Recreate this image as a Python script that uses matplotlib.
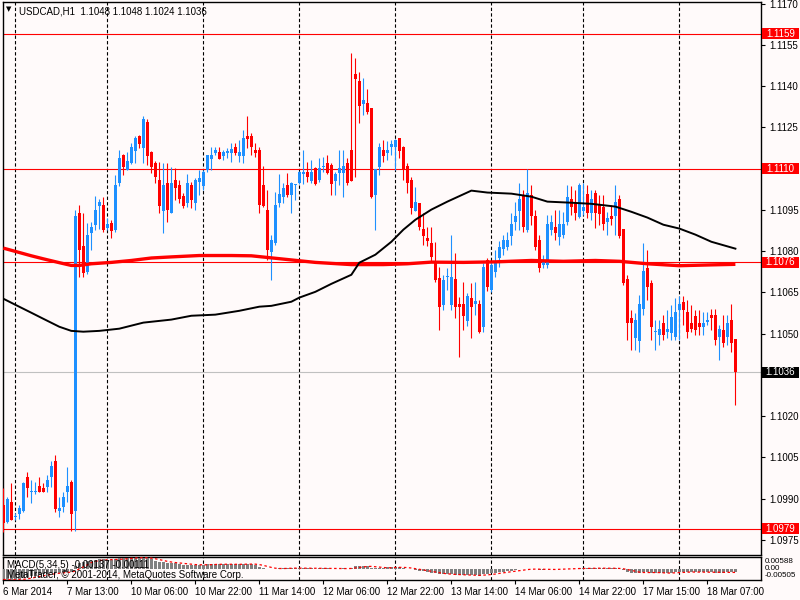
import matplotlib
matplotlib.use('Agg')
import matplotlib.pyplot as plt
import numpy as np
import pandas as pd
from matplotlib.transforms import blended_transform_factory
from matplotlib.patches import Rectangle

plt.rcParams['font.family'] = ['Liberation Sans', 'DejaVu Sans']

symbol_title = "USDCAD,H1  1.1048 1.1048 1.1024 1.1036"

opens = [
    1.09877, 1.09816, 1.09888, 1.09834, 1.09845, 1.09856, 1.09979, 1.09925, 1.09925, 1.09946,
    1.09939, 1.09943, 1.09979, 1.10037, 1.09856, 1.09870, 1.09925, 1.09961, 1.09856, 1.10940,
    1.10820, 1.10725, 1.10867, 1.10896, 1.10965, 1.10969, 1.10885, 1.10903, 1.10878, 1.11049,
    1.11151, 1.11096, 1.11122, 1.11165, 1.11220, 1.11176, 1.11271, 1.11162, 1.11122, 1.11060,
    1.10947, 1.11049, 1.10940, 1.11060, 1.11042, 1.11002, 1.10976, 1.11042, 1.10976, 1.11053,
    1.11038, 1.11096, 1.11136, 1.11158, 1.11162, 1.11147, 1.11158, 1.11158, 1.11180, 1.11147,
    1.11147, 1.11220, 1.11220, 1.11169, 1.11169, 1.11042, 1.10951, 1.10798, 1.10831, 1.10976,
    1.10998, 1.11042, 1.11005, 1.11040, 1.11049, 1.11082, 1.11089, 1.11056, 1.11103, 1.11060,
    1.11107, 1.11122, 1.11114, 1.11056, 1.11085, 1.11085, 1.11122, 1.11169, 1.11445, 1.11420,
    1.11336, 1.11340, 1.11322, 1.11005, 1.11107, 1.11169, 1.11158, 1.11180, 1.11180, 1.11213,
    1.11180, 1.11111, 1.11060, 1.10947, 1.10976, 1.10882, 1.10849, 1.10831, 1.10765, 1.10703,
    1.10605, 1.10707, 1.10605, 1.10700, 1.10609, 1.10609, 1.10547, 1.10631, 1.10609, 1.10609,
    1.10525, 1.10769, 1.10660, 1.10725, 1.10776, 1.10809, 1.10816, 1.10856, 1.10907, 1.10947,
    1.11005, 1.10878, 1.11005, 1.10929, 1.10842, 1.10751, 1.10751, 1.10878, 1.10889, 1.10852,
    1.10860, 1.10907, 1.10991, 1.10976, 1.10925, 1.10947, 1.11009, 1.10940, 1.11013, 1.10969,
    1.10962, 1.10907, 1.10929, 1.10929, 1.10991, 1.10882, 1.10700, 1.10558, 1.10485, 1.10474,
    1.10590, 1.10740, 1.10685, 1.10507, 1.10496, 1.10540, 1.10507, 1.10503, 1.10489, 1.10587,
    1.10616, 1.10580, 1.10540, 1.10565, 1.10540, 1.10525, 1.10543, 1.10569, 1.10569, 1.10489,
    1.10514, 1.10489, 1.10551, 1.10480,
]
highs = [
    1.09939, 1.09906, 1.09957, 1.09848, 1.09877, 1.09961, 1.09997, 1.09968, 1.09961, 1.09979,
    1.09957, 1.09987, 1.10037, 1.10059, 1.09906, 1.09925, 1.10016, 1.09968, 1.10951, 1.10969,
    1.10940, 1.10903, 1.10907, 1.11002, 1.10991, 1.10998, 1.10922, 1.10914, 1.11078, 1.11169,
    1.11154, 1.11162, 1.11194, 1.11220, 1.11224, 1.11293, 1.11282, 1.11165, 1.11129, 1.11125,
    1.11122, 1.11122, 1.11107, 1.11103, 1.11060, 1.11013, 1.11082, 1.11053, 1.11067, 1.11096,
    1.11096, 1.11151, 1.11180, 1.11180, 1.11180, 1.11169, 1.11176, 1.11194, 1.11194, 1.11205,
    1.11242, 1.11293, 1.11231, 1.11194, 1.11180, 1.11111, 1.11023, 1.10860, 1.11016, 1.11082,
    1.11049, 1.11085, 1.11053, 1.11045, 1.11093, 1.11169, 1.11125, 1.11133, 1.11107, 1.11140,
    1.11143, 1.11151, 1.11122, 1.11089, 1.11169, 1.11169, 1.11140, 1.11522, 1.11504, 1.11453,
    1.11431, 1.11391, 1.11322, 1.11100, 1.11194, 1.11205, 1.11202, 1.11205, 1.11209, 1.11213,
    1.11184, 1.11122, 1.11071, 1.11034, 1.10976, 1.10940, 1.10889, 1.10889, 1.10834, 1.10743,
    1.10714, 1.10740, 1.10860, 1.10794, 1.10634, 1.10689, 1.10649, 1.10685, 1.10689, 1.10623,
    1.10758, 1.10776, 1.10761, 1.10805, 1.10838, 1.10860, 1.10871, 1.10940, 1.10980, 1.11049,
    1.11023, 1.11100, 1.11042, 1.10951, 1.10860, 1.10787, 1.10932, 1.10932, 1.10951, 1.10951,
    1.10943, 1.11042, 1.11038, 1.11023, 1.11049, 1.11049, 1.11042, 1.11023, 1.11023, 1.11005,
    1.11005, 1.10943, 1.10969, 1.11042, 1.11005, 1.10882, 1.10714, 1.10587, 1.10576, 1.10641,
    1.10831, 1.10805, 1.10696, 1.10551, 1.10551, 1.10569, 1.10587, 1.10605, 1.10631, 1.10638,
    1.10638, 1.10623, 1.10605, 1.10587, 1.10587, 1.10580, 1.10580, 1.10590, 1.10590, 1.10532,
    1.10569, 1.10569, 1.10609, 1.10480,
]
lows = [
    1.09779, 1.09812, 1.09823, 1.09823, 1.09826, 1.09852, 1.09906, 1.09885, 1.09917, 1.09925,
    1.09925, 1.09925, 1.09943, 1.09852, 1.09834, 1.09852, 1.09888, 1.09783, 1.09783, 1.10707,
    1.10707, 1.10718, 1.10805, 1.10878, 1.10882, 1.10871, 1.10878, 1.10849, 1.10871, 1.11038,
    1.11078, 1.11096, 1.11118, 1.11122, 1.11176, 1.11122, 1.11114, 1.11085, 1.11049, 1.10940,
    1.10867, 1.10907, 1.10940, 1.10987, 1.10976, 1.10958, 1.10962, 1.10958, 1.10951, 1.11005,
    1.11023, 1.11089, 1.11096, 1.11151, 1.11136, 1.11133, 1.11140, 1.11125, 1.11151, 1.11125,
    1.11122, 1.11176, 1.11151, 1.11143, 1.10940, 1.10962, 1.10769, 1.10696, 1.10823, 1.10962,
    1.10976, 1.10998, 1.10940, 1.10987, 1.11045, 1.11045, 1.11053, 1.11049, 1.11042, 1.11053,
    1.11089, 1.11082, 1.11005, 1.11005, 1.11042, 1.10998, 1.11042, 1.11056, 1.11071, 1.11267,
    1.11296, 1.11300, 1.10994, 1.10878, 1.11078, 1.11125, 1.11133, 1.11151, 1.11096, 1.11140,
    1.11060, 1.11013, 1.10936, 1.10947, 1.10878, 1.10823, 1.10820, 1.10765, 1.10689, 1.10514,
    1.10587, 1.10660, 1.10587, 1.10558, 1.10416, 1.10514, 1.10529, 1.10485, 1.10569, 1.10503,
    1.10507, 1.10656, 1.10652, 1.10707, 1.10743, 1.10787, 1.10805, 1.10823, 1.10878, 1.10878,
    1.10871, 1.10871, 1.10896, 1.10805, 1.10725, 1.10740, 1.10740, 1.10860, 1.10842, 1.10823,
    1.10849, 1.10896, 1.10932, 1.10914, 1.10922, 1.10932, 1.10922, 1.10914, 1.10885, 1.10896,
    1.10878, 1.10860, 1.10896, 1.10860, 1.10849, 1.10678, 1.10478, 1.10441, 1.10441, 1.10434,
    1.10569, 1.10623, 1.10478, 1.10441, 1.10460, 1.10478, 1.10485, 1.10478, 1.10478, 1.10478,
    1.10532, 1.10485, 1.10507, 1.10496, 1.10496, 1.10496, 1.10532, 1.10514, 1.10460, 1.10405,
    1.10452, 1.10460, 1.10434, 1.10240,
]
closes = [
    1.09812, 1.09899, 1.09823, 1.09837, 1.09866, 1.09957, 1.09939, 1.09928, 1.09928, 1.09925,
    1.09925, 1.09968, 1.10019, 1.09863, 1.09866, 1.09906, 1.09946, 1.09845, 1.10929, 1.10805,
    1.10721, 1.10860, 1.10889, 1.10951, 1.10980, 1.10878, 1.10900, 1.10874, 1.11042, 1.11140,
    1.11107, 1.11129, 1.11180, 1.11213, 1.11191, 1.11282, 1.11147, 1.11107, 1.11071, 1.10965,
    1.11042, 1.10951, 1.11049, 1.11031, 1.10991, 1.10965, 1.11049, 1.10987, 1.11060, 1.11067,
    1.11089, 1.11151, 1.11151, 1.11169, 1.11136, 1.11162, 1.11165, 1.11173, 1.11158, 1.11162,
    1.11213, 1.11209, 1.11180, 1.11158, 1.10969, 1.10965, 1.10805, 1.10842, 1.10969, 1.11009,
    1.11031, 1.11005, 1.11049, 1.11043, 1.11089, 1.11084, 1.11071, 1.11089, 1.11045, 1.11103,
    1.11111, 1.11085, 1.11045, 1.11082, 1.11103, 1.11111, 1.11049, 1.11056, 1.11427, 1.11329,
    1.11351, 1.11307, 1.10998, 1.11100, 1.11180, 1.11147, 1.11169, 1.11191, 1.11205, 1.11165,
    1.11096, 1.11049, 1.10958, 1.10980, 1.10889, 1.10856, 1.10838, 1.10780, 1.10696, 1.10598,
    1.10696, 1.10711, 1.10707, 1.10598, 1.10598, 1.10565, 1.10638, 1.10598, 1.10620, 1.10507,
    1.10743, 1.10671, 1.10751, 1.10765, 1.10816, 1.10842, 1.10842, 1.10900, 1.10929, 1.10991,
    1.10889, 1.11013, 1.10929, 1.10816, 1.10740, 1.10761, 1.10900, 1.10907, 1.10867, 1.10900,
    1.10900, 1.10998, 1.10962, 1.10940, 1.11042, 1.10962, 1.10940, 1.10991, 1.10940, 1.10936,
    1.10900, 1.10922, 1.10918, 1.10980, 1.10856, 1.10685, 1.10540, 1.10540, 1.10551, 1.10609,
    1.10729, 1.10671, 1.10525, 1.10510, 1.10518, 1.10496, 1.10518, 1.10561, 1.10580, 1.10609,
    1.10587, 1.10507, 1.10518, 1.10514, 1.10525, 1.10540, 1.10551, 1.10558, 1.10478, 1.10518,
    1.10467, 1.10540, 1.10467, 1.10360,
]

ma_black_bars = [0, 3, 7, 10, 14, 17, 20, 24, 29, 35, 42, 47, 53, 59, 64, 67, 72, 74, 78, 82,
                 87, 89, 93, 97, 100, 103, 107, 111, 117, 121, 127, 132, 136, 142, 147, 153,
                 157, 161, 165, 169, 173, 177, 183]
ma_black_vals = [1.10627, 1.10605, 1.10576, 1.10554, 1.10525, 1.10510, 1.10507, 1.10510, 1.10518,
                 1.10540, 1.10551, 1.10565, 1.10569, 1.10583, 1.10598, 1.10601, 1.10616, 1.10631,
                 1.10652, 1.10681, 1.10714, 1.10758, 1.10787, 1.10834, 1.10878, 1.10914, 1.10951,
                 1.10980, 1.11020, 1.11013, 1.11009, 1.10998, 1.10980, 1.10976, 1.10972, 1.10962,
                 1.10943, 1.10922, 1.10896, 1.10882, 1.10860, 1.10834, 1.10809]
ma_red_bars = [0, 3, 7, 10, 14, 17, 19, 22, 27, 32, 37, 42, 49, 57, 62, 70, 78, 87, 95, 101,
               107, 115, 123, 132, 140, 148, 154, 161, 169, 177, 183]
ma_red_vals = [1.10811, 1.10799, 1.10783, 1.10772, 1.10758, 1.10748, 1.10748, 1.10754, 1.10759,
               1.10766, 1.10775, 1.10779, 1.10784, 1.10784, 1.10783, 1.10771, 1.10759, 1.10751,
               1.10751, 1.10754, 1.10760, 1.10759, 1.10761, 1.10766, 1.10763, 1.10766, 1.10763,
               1.10754, 1.10747, 1.10750, 1.10752]

macd_hist = [
    -0.0048, -0.0050, -0.0050, -0.0049, -0.0046, -0.0042, -0.0038, -0.0033, -0.0030, -0.0027,
    -0.0024, -0.0021, -0.0016, -0.0015, -0.0016, -0.0014, -0.0011, -0.0012, 0.0018, 0.0030,
    0.0034, 0.0038, 0.0042, 0.0046, 0.0048, 0.0047, 0.0046, 0.0045, 0.0048, 0.0052,
    0.0053, 0.0054, 0.0055, 0.0056, 0.0055, 0.0056, 0.0052, 0.0047, 0.0042, 0.0036,
    0.0035, 0.0031, 0.0031, 0.0029, 0.0026, 0.0023, 0.0023, 0.0021, 0.0021, 0.0021,
    0.0022, 0.0024, 0.0025, 0.0025, 0.0024, 0.0024, 0.0024, 0.0024, 0.0024, 0.0024,
    0.0026, 0.0026, 0.0025, 0.0023, 0.0013, 0.0008, 0.0002, 0.0001, 0.0004, 0.0006,
    0.0007, 0.0006, 0.0006, 0.0005, 0.0006, 0.0006, 0.0005, 0.0005, 0.0004, 0.0005,
    0.0006, 0.0005, 0.0003, 0.0003, 0.0004, 0.0005, 0.0004, 0.0006, 0.0014, 0.0016,
    0.0017, 0.0016, 0.0008, 0.0005, 0.0007, 0.0008, 0.0009, 0.0010, 0.0011, 0.0010,
    0.0007, 0.0004, 0.0000, -0.0003, -0.0006, -0.0009, -0.0012, -0.0015, -0.0019, -0.0024,
    -0.0024, -0.0024, -0.0023, -0.0025, -0.0028, -0.0029, -0.0028, -0.0028, -0.0028, -0.0030,
    -0.0024, -0.0021, -0.0019, -0.0017, -0.0014, -0.0011, -0.0009, -0.0006, -0.0003, 0.0000,
    0.0001, 0.0003, 0.0002, 0.0000, -0.0002, -0.0002, 0.0000, 0.0001, 0.0001, 0.0002,
    0.0003, 0.0004, 0.0004, 0.0004, 0.0005, 0.0005, 0.0005, 0.0006, 0.0006, 0.0006,
    0.0005, 0.0005, 0.0005, 0.0005, 0.0003, -0.0004, -0.0012, -0.0016, -0.0018, -0.0016,
    -0.0012, -0.0012, -0.0016, -0.0018, -0.0018, -0.0018, -0.0017, -0.0015, -0.0013, -0.0012,
    -0.0012, -0.0013, -0.0013, -0.0014, -0.0014, -0.0014, -0.0013, -0.0013, -0.0015, -0.0015,
    -0.0016, -0.0014, -0.0014, -0.00137,
]

level_lines = [1.1159, 1.1110, 1.1076, 1.0979]
last_price = 1.1036
price_ticks = [1.1170, 1.1155, 1.1140, 1.1125, 1.1110, 1.1095, 1.1080, 1.1065,
               1.1050, 1.1035, 1.1020, 1.1005, 1.0990, 1.0975]
hidden_tick_labels = [1.1110, 1.1035]
day_breaks = [3, 26, 50, 74, 98, 122, 145, 169]
time_ticks = [0, 16, 32, 48, 64, 80, 96, 112, 128, 144, 160, 176]
time_labels = ["6 Mar 2014", "7 Mar 13:00", "10 Mar 06:00", "10 Mar 22:00", "11 Mar 14:00",
               "12 Mar 06:00", "12 Mar 22:00", "13 Mar 14:00", "14 Mar 06:00", "14 Mar 22:00",
               "17 Mar 15:00", "18 Mar 07:00"]
macd_title = "MACD(5,34,5) -0.00137 -0.00111"
copyright_text = "MetaTrader, \u00a9 2001-2014, MetaQuotes Software Corp."
macd_scale_labels = ["0.00588", "0.00", "-0.00505"]

BG = '#FFFAFA'
BULL = '#1E90FF'
BEAR = '#FF0000'

W, H = 800, 600
fig = plt.figure(figsize=(8, 6), dpi=100, facecolor=BG)

def rect(l, t, r, b):
    return [l / W, 1 - b / H, (r - l) / W, (b - t) / H]

ax = fig.add_axes(rect(2.7, 1.7, 761, 555), facecolor=BG)
ax2 = fig.add_axes(rect(2.7, 557, 761, 580), facecolor=BG, sharex=ax)

o = np.array(opens); h = np.array(highs); l = np.array(lows); c = np.array(closes)
x = np.arange(len(o))
up = c >= o
cols = np.where(up, BULL, BEAR)

# levels
for lv in level_lines:
    ax.axhline(lv, color='#FF0000', lw=0.8, zorder=2)
ax.axhline(last_price, color='#C0C0C0', lw=0.8, zorder=2)

# day separators
for d in day_breaks:
    for a in (ax, ax2):
        a.axvline(d, color='black', lw=0.8, ls=(0, (3, 2)), zorder=1)

# candles
ax.vlines(x, l, h, colors=cols, lw=0.8, zorder=3)
body_lo = np.minimum(o, c)
body_h = np.maximum(np.abs(c - o), 0.00004)
ax.bar(x, body_h, bottom=body_lo, width=0.7, color=cols, linewidth=0, zorder=4)

# moving averages
ax.plot(ma_red_bars, ma_red_vals, color='#FF0000', lw=2.4, zorder=5, solid_capstyle='butt')
ax.plot(ma_black_bars, ma_black_vals, color='black', lw=1.4, zorder=5)

ax.set_xlim(-0.15, 189.4)
ax.set_ylim(1.09695, 1.11707)

ax.yaxis.tick_right()
ax.set_yticks(price_ticks)
ax.set_yticklabels(['' if any(abs(p - q) < 1e-6 for q in hidden_tick_labels) else '%.4f' % p
                    for p in price_ticks])
ax.tick_params(axis='y', direction='out', length=3, width=0.8, pad=3, labelsize=7, colors='black')
ax.tick_params(axis='x', bottom=False, labelbottom=False)
for s in ax.spines.values():
    s.set_color('black'); s.set_linewidth(1.0)

tr = blended_transform_factory(ax.transAxes, ax.transData)
box_l = (762 - 2.7) / (761 - 2.7)
box_w = 37 / (761 - 2.7)
box_h = 0.00040
for lv, fc in [(v, '#FF0000') for v in level_lines] + [(last_price, 'black')]:
    ax.add_patch(Rectangle((box_l, lv - box_h / 2), box_w, box_h, transform=tr,
                           facecolor=fc, edgecolor='none', clip_on=False, zorder=9))
    ax.text(box_l + box_w / 2, lv, '%.4f' % lv, transform=tr, ha='center', va='center',
            fontsize=7, color='white', zorder=10, clip_on=False)

# MACD window
ax2.bar(x, macd_hist, width=0.6, color='#808080', linewidth=0, zorder=3)
signal = pd.Series(macd_hist).rolling(5, min_periods=1).mean()
ax2.plot(x, signal, color='#FF0000', lw=0.9, ls=(0, (2, 2)), zorder=4)
ax2.set_ylim(-0.00505, 0.00588)
ax2.set_yticks([])
ax2.set_xticks(time_ticks)
ax2.set_xticklabels(time_labels)
ax2.tick_params(axis='x', direction='out', length=3, width=0.8, pad=2, labelsize=7, colors='black')
for lbl in ax2.get_xticklabels():
    lbl.set_ha('left')
for s in ax2.spines.values():
    s.set_color('black'); s.set_linewidth(1.0)

ax2.text(0.006, 0.66, macd_title, transform=ax2.transAxes, fontsize=7, va='center', ha='left', zorder=6)
ax2.text(0.006, 0.22, copyright_text, transform=ax2.transAxes, fontsize=7, va='center', ha='left', zorder=6)
for txt, yy in zip(macd_scale_labels, [0.80, 0.50, 0.20]):
    ax2.text(1.005, yy, txt, transform=ax2.transAxes, fontsize=5.8, va='center', ha='left', clip_on=False)

# title
fig.text(9 / W, 1 - 9 / H, '\u25bc', fontsize=5, family='DejaVu Sans', ha='center', va='center')
fig.text(19 / W, 1 - 11 / H, symbol_title, fontsize=7, ha='left', va='center')

fig.savefig('out.png', dpi=100, facecolor=BG)
